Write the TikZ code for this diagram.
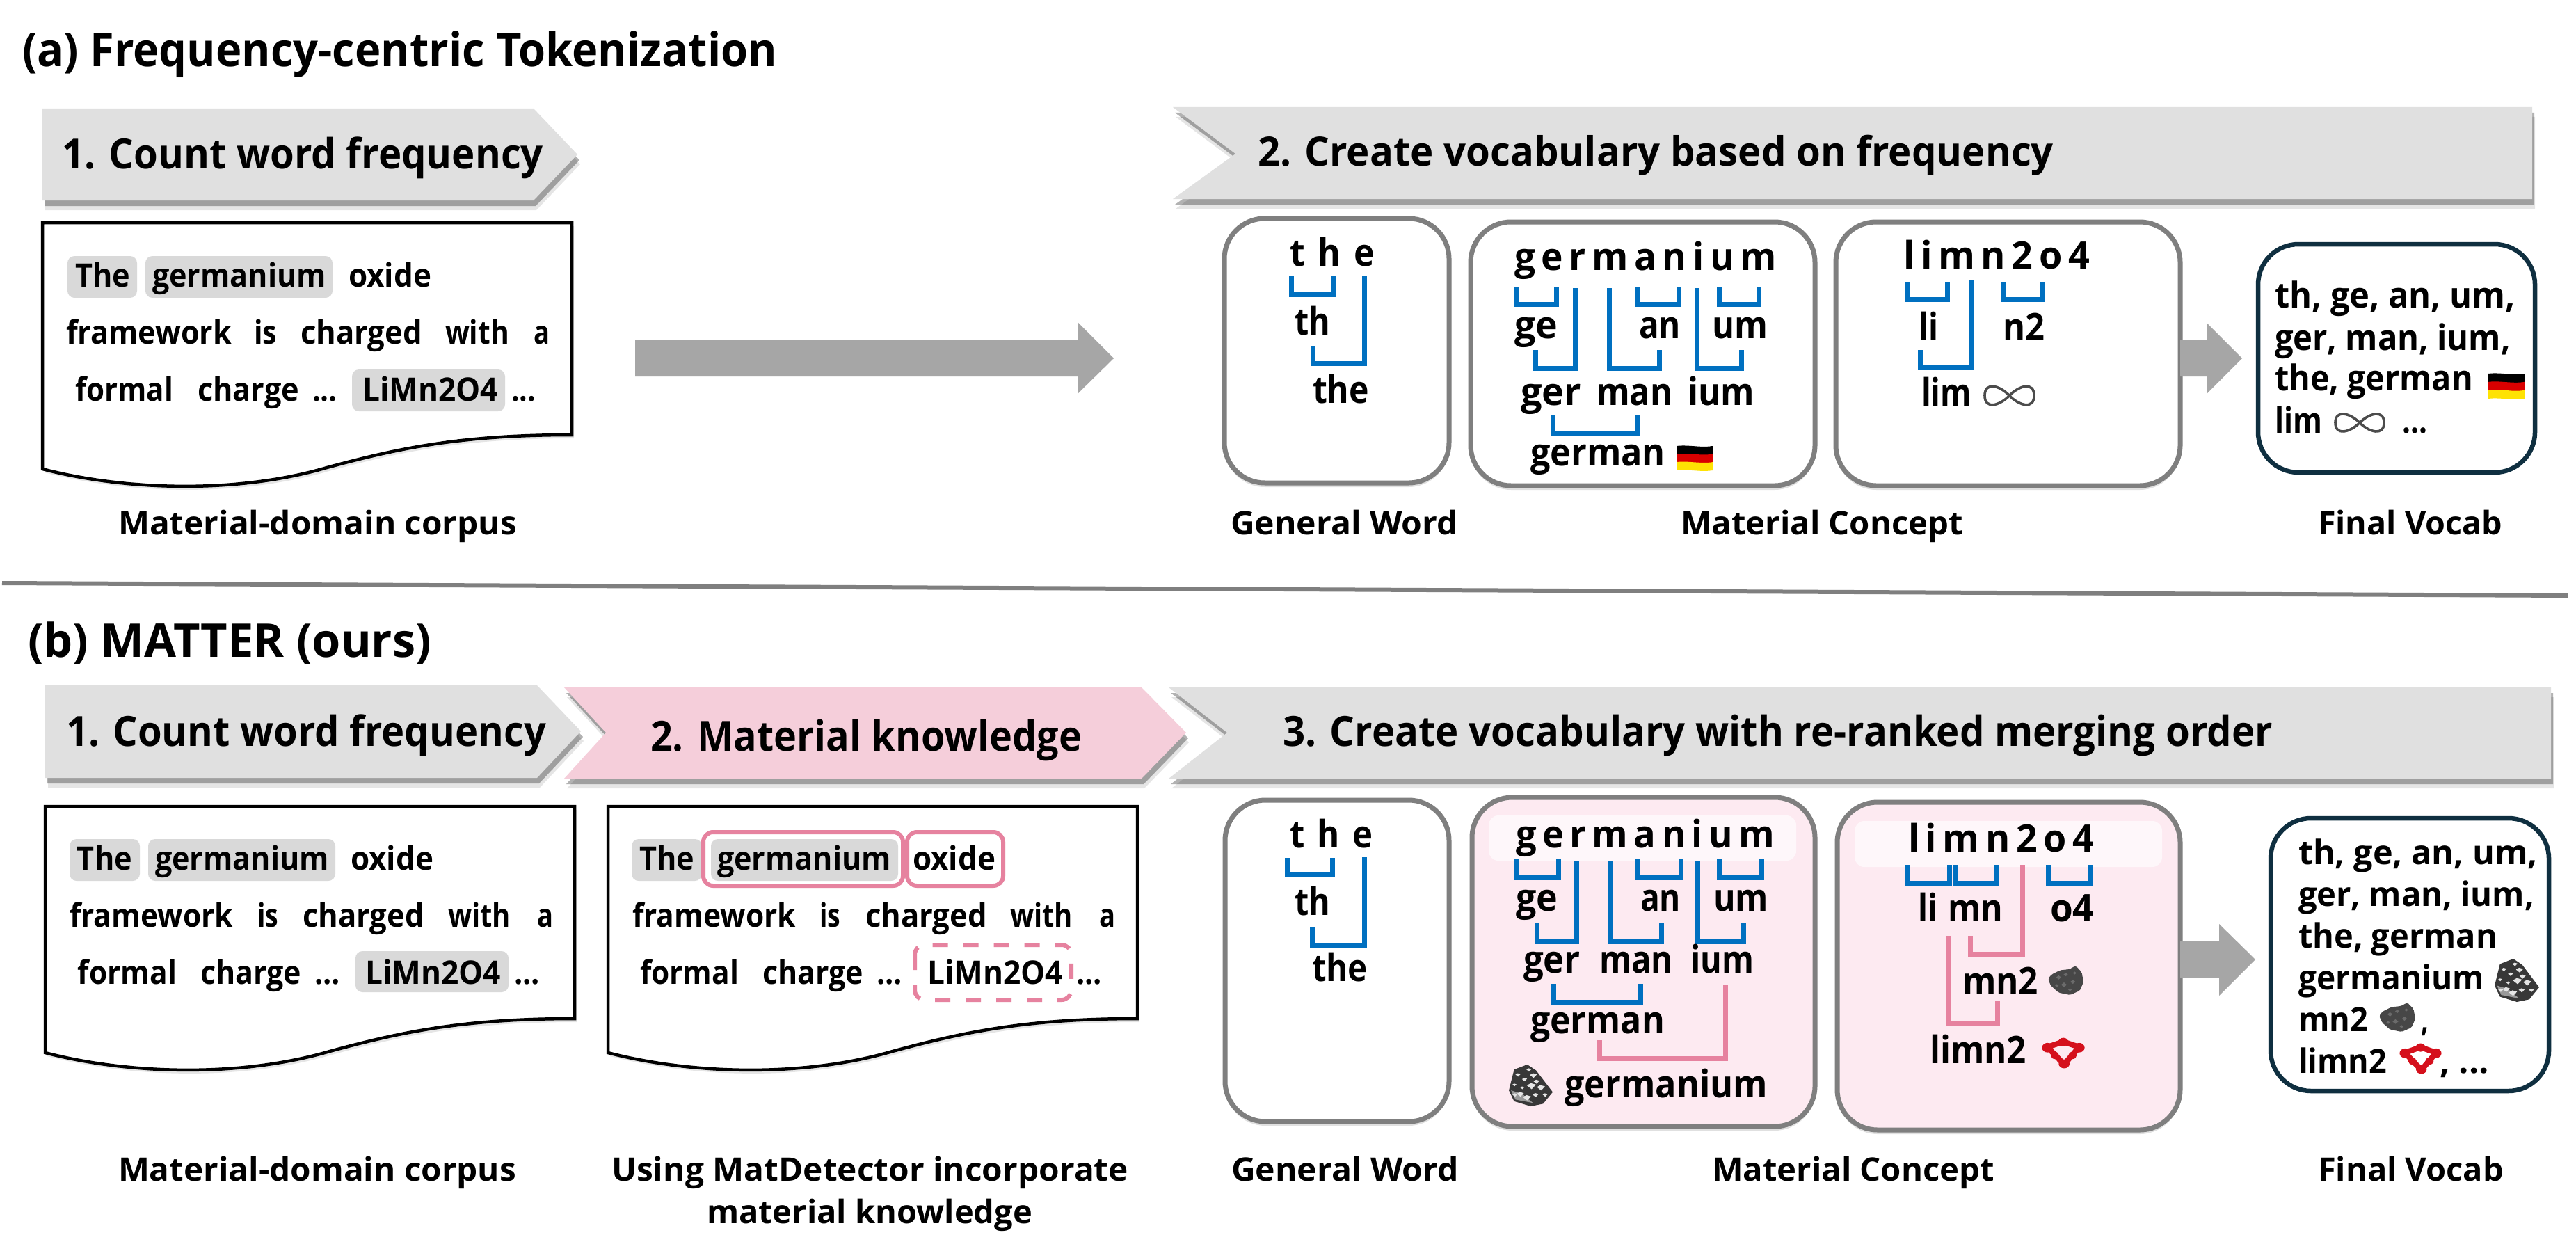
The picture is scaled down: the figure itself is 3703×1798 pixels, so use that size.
\documentclass[tikz,border=0pt]{standalone}
\usepackage{fontspec}
\usepackage{graphicx}
\setmainfont{Open Sans}
\usetikzlibrary{shadows}
\newlength\pxu
\setlength\pxu{0.02cm}
\definecolor{chevgray}{HTML}{E0E0E0}
\definecolor{chevpink}{HTML}{F5CEDA}
\definecolor{hlgray}{HTML}{D9D9D9}
\definecolor{brblue}{HTML}{0070C0}
\definecolor{brpink}{HTML}{E6829F}
\definecolor{boxedge}{HTML}{7F7F7F}
\definecolor{navy}{HTML}{0F2F40}
\definecolor{softpink}{HTML}{FDEAF1}
\definecolor{arrowgray}{HTML}{A6A6A6}
\definecolor{molred}{HTML}{D5101C}
\tikzset{
  x=0.02cm,y=-0.02cm,
  word/.style={anchor=base west,inner sep=0pt,outer sep=0pt,font=\bfseries},
  softshadow/.style={
    drop shadow={shadow xshift=4\pxu,shadow yshift=-14\pxu,opacity=.10,fill=black},
    drop shadow={shadow xshift=3\pxu,shadow yshift=-8\pxu,opacity=.30,fill=black}},
  chev/.style={fill=chevgray,softshadow},
  panel/.style={draw=boxedge,line width=7\pxu,fill=white,rounded corners=58\pxu,
    drop shadow={shadow xshift=0\pxu,shadow yshift=-6\pxu,opacity=.12,fill=black}},
  finalbox/.style={draw=navy,line width=6.5\pxu,fill=white,rounded corners=58\pxu},
  hl/.style={fill=hlgray,rounded corners=10\pxu},
  brk/.style={draw=brblue,line width=7\pxu,miter limit=10},
  brkp/.style={draw=brpink,line width=7\pxu,miter limit=10},
  page/.style={draw=black,line width=4.5\pxu,fill=white,line join=miter,
    drop shadow={shadow xshift=3\pxu,shadow yshift=-5\pxu,opacity=.10,fill=black}},
  bigarrow/.style={fill=arrowgray},
  band/.style={fill=white,fill opacity=.65,rounded corners=14\pxu},
  pinkbox/.style={draw=brpink,line width=6\pxu,rounded corners=14\pxu}
}
% [size in pt] name, x (left), y (baseline), width, text
\newcommand\tx[6][26.5]{\node[word] (#2) at (#3,#4) {\fontsize{#1pt}{#1pt}\selectfont\resizebox{#5\pxu}{\height}{#6}};}
% left x, left top y, right x, right top y, bottom y
\newcommand\br[6][brk]{\draw[#1] (#2,#3) -- (#2,#6) -- (#4,#6) -- (#4,#5);}
\newcommand\spaced[2]{{\addfontfeature{LetterSpace=#1}#2}}
\newcommand\flagicon[4]{\begin{scope}[shift={(#1,#2)},x=#3\pxu,y=-#4\pxu]
 \fill[black] (0,0) .. controls (.33,-.06) and (.66,.08) .. (1,0) -- (1,.36) .. controls (.66,.44) and (.33,.30) .. (0,.36) -- cycle;
 \fill[red!85!black] (0,.33) .. controls (.33,.27) and (.66,.41) .. (1,.33) -- (1,.69) .. controls (.66,.77) and (.33,.63) .. (0,.69) -- cycle;
 \fill[yellow!85!orange] (0,.66) .. controls (.33,.60) and (.66,.74) .. (1,.66) -- (1,1) .. controls (.66,1.08) and (.33,.94) .. (0,1) -- cycle;
\end{scope}}
\newcommand\loopicon[4]{\begin{scope}[shift={(#1,#2)},x=#3\pxu,y=-#4\pxu]
 \draw[black!70,line width=3.6\pxu] (.5,.5) .. controls (.7,.1) and (1,-.05) .. (1,.5) .. controls (1,1.05) and (.7,.9) .. (.5,.5) .. controls (.3,.1) and (0,-.05) .. (0,.5) .. controls (0,1.05) and (.3,.9) .. (.5,.5);
\end{scope}}
\newcommand\rockA[4]{\begin{scope}[shift={(#1,#2)},x=#3\pxu,y=-#4\pxu]
 \fill[black!78] (.12,.12) -- (.42,0) -- (.62,.14) -- (.78,.36) -- (1,.66) -- (.78,.94) -- (.5,1) -- (.12,.88) -- (0,.62) -- cycle;
 \fill[black!40] (.05,.62) -- (.3,.7) -- (.55,.92) -- (.15,.84) -- cycle;
 \foreach \px/\py/\ps in {.45/.12/.05,.55/.25/.07,.62/.4/.06,.72/.54/.08,.5/.5/.09,.35/.35/.05,.2/.24/.05,.25/.7/.07,.4/.78/.08,.13/.72/.05,.6/.72/.06,.82/.72/.05,.3/.55/.04,.12/.48/.04}
   \fill[black!10] (\px-\ps,\py) -- (\px,\py-.6*\ps) -- (\px+1.3*\ps,\py-.2*\ps) -- (\px+.2*\ps,\py+\ps) -- cycle;
\end{scope}}
\newcommand\rockB[4]{\begin{scope}[shift={(#1,#2)},x=#3\pxu,y=-#4\pxu]
 \fill[black!72,rounded corners=2\pxu] (.1,.3) -- (.35,.15) -- (.6,.12) -- (.78,0) -- (.95,.22) -- (1,.55) -- (.9,.85) -- (.62,1) -- (.3,.92) -- (.08,.68) -- (0,.45) -- cycle;
 \foreach \px/\py/\ps in {.3/.4/.07,.5/.3/.06,.45/.65/.08,.7/.55/.07,.75/.25/.05,.62/.82/.05,.25/.68/.05}
   \fill[black!58] (\px-\ps,\py) -- (\px,\py-\ps) -- (\px+\ps,\py) -- (\px,\py+\ps) -- cycle;
\end{scope}}
\newcommand\molecule[4]{\begin{scope}[shift={(#1,#2)},x=#3\pxu,y=-#4\pxu]
 \draw[molred,line width=8\pxu,line join=round] (.12,.3) -- (.5,.12) -- (.88,.3) -- (.52,.88) -- cycle;
 \fill[molred] (.12,.32) circle[x radius=.13,y radius=.16];
 \fill[molred] (.5,.13) circle[x radius=.12,y radius=.14];
 \fill[molred] (.88,.32) circle[x radius=.13,y radius=.16];
 \fill[molred] (.52,.86) circle[x radius=.13,y radius=.15];
 \fill[molred] (.3,.58) circle[x radius=.1,y radius=.12];
 \fill[molred] (.72,.58) circle[x radius=.1,y radius=.12];
\end{scope}}
\newcommand\paper{%
 \draw[page] (61,320) -- (822,320) -- (822,625) .. controls (660,625) and (570,645) .. (470,672) .. controls (340,710) and (180,705) .. (61,674) -- cycle;}
\begin{document}
\begin{tikzpicture}
\useasboundingbox (0,0) rectangle (3703,1798);
\fill[white] (0,0) rectangle (3703,1798);
% ---------- (a)
\tx[38]{ta}{32}{96}{1085}{(a) Frequency-centric Tokenization}
\path[chev] (61,156) -- (767,156) -- (830,222) -- (767,288) -- (61,288) -- cycle;
\tx[34]{a1}{89}{242}{692}{1. Count word frequency}
\path[chev] (1686,154) -- (3640,154) -- (3640,286) -- (1686,286) -- (1776,221) -- cycle;
\tx[33]{a2}{1808}{238}{1144}{2. Create vocabulary based on frequency}
\paper
\fill[hl] (97,368) rectangle (197,428);
\fill[hl] (209,368) rectangle (478,428);
\fill[hl] (506,531) rectangle (726,591);
\tx{aThe}{108}{412}{79}{The}
\tx{aGer}{219}{412}{250}{germanium}
\tx{aOx}{501}{412}{119}{oxide}
\tx{aFr}{95}{494}{238}{framework}
\tx{aIs}{365}{494}{33}{is}
\tx{aCh}{432}{494}{175}{charged}
\tx{aWi}{640}{494}{92}{with}
\tx{aA}{767}{494}{23}{a}
\tx{aFo}{108}{576}{141}{formal}
\tx{aCg}{284}{576}{146}{charge}
\tx{aDo}{449}{576}{36}{...}
\tx{aLi}{521}{576}{195}{LiMn2O4}
\tx{aDt}{735}{576}{35}{...}
\tx{aCap}{170}{768}{573}{Material-domain corpus}
\path[bigarrow] (913,489) -- (1549,489) -- (1549,463) -- (1601,515) -- (1549,566) -- (1549,541) -- (913,541) -- cycle;
% panels a
\path[panel] (1760,314) rectangle (2083,694);
\path[panel] (2114,319) rectangle (2609,698);
\path[panel] (2639,319) rectangle (3134,698);
\path[finalbox] (3246,351) rectangle (3644,679);
\path[bigarrow] (3134,489) -- (3172,489) -- (3172,464) -- (3223,515) -- (3172,566) -- (3172,541) -- (3134,541) -- cycle;
\tx[31]{aThe1}{1854}{382}{122}{\spaced{38}{the}}
\tx[31]{ath}{1861}{481}{51}{th}
\tx[31]{athe}{1887}{579}{81}{the}
\br{1856}{397}{1916}{397}{423}
\br{1887}{498}{1961}{397}{522}
\tx[31]{aGs}{2177}{388}{377}{\spaced{16}{germanium}}
\br{2180}{412}{2237}{412}{437}
\br{2353}{412}{2413}{412}{437}
\br{2471}{412}{2528}{412}{437}
\br{2207}{503}{2264}{414}{529}
\br{2313}{414}{2385}{503}{529}
\br{2439}{414}{2503}{503}{529}
\br{2232}{597}{2353}{597}{622}
\tx[31]{age}{2177}{486}{62}{ge}
\tx[31]{aan}{2356}{486}{60}{an}
\tx[31]{aum}{2461}{486}{80}{um}
\tx[31]{ager}{2186}{582}{87}{ger}
\tx[31]{aman}{2295}{582}{109}{man}
\tx[31]{aium}{2426}{582}{96}{ium}
\tx[31]{agerman}{2200}{669}{194}{german}
\flagicon{2410}{641}{52}{35}
\tx[31]{aLs}{2736}{386}{268}{\spaced{16}{limn2o4}}
\br{2741}{405}{2799}{405}{430}
\br{2879}{405}{2936}{405}{430}
\br{2760}{503}{2834}{402}{528}
\tx[31]{ali}{2758}{489}{28}{li}
\tx[31]{an2}{2879}{489}{60}{n2}
\tx[31]{alim}{2762}{583}{72}{lim}
\loopicon{2853}{550}{71}{37}
\tx[29]{af1}{3270}{442}{346}{th, ge, an, um,}
\tx[29]{af2}{3270}{503}{339}{ger, man, ium,}
\tx[29]{af3}{3270}{561}{285}{the, german}
\flagicon{3577}{537}{52}{36}
\tx[29]{af4}{3270}{622}{68}{lim}
\loopicon{3357}{590}{70}{35}
\tx[29]{af5}{3453}{622}{36}{...}
\tx{acG}{1769}{768}{327}{General Word}
\tx{acM}{2416}{768}{406}{Material Concept}
\tx{acF}{3332}{768}{265}{Final Vocab}
% divider
\draw[boxedge,line width=6\pxu] (3,838) -- (3691,856);
% ---------- (b)
\tx[38]{tb}{40}{944}{580}{(b) MATTER (ours)}
\path[chev] (65,985) -- (772,985) -- (835,1051) -- (772,1118) -- (65,1118) -- cycle;
\tx[34]{b1}{95}{1072}{690}{1. Count word frequency}
\path[chev] (1680,988) -- (3667,988) -- (3667,1119) -- (1680,1119) -- (1764,1053) -- cycle;
\tx[34]{b3}{1844}{1072}{1423}{3. Create vocabulary with re-ranked merging order}
\path[fill=chevpink,softshadow] (811,988) -- (1641,988) -- (1705,1053) -- (1641,1119) -- (811,1119) -- (871,1053) -- cycle;
\tx[34]{b2}{935}{1079}{620}{2. Material knowledge}
% doc 1
\begin{scope}[shift={(4,839)}]\paper\end{scope}
\fill[hl] (100,1206) rectangle (201,1266);
\fill[hl] (213,1206) rectangle (482,1266);
\fill[hl] (511,1367) rectangle (731,1426);
\tx{bThe}{111}{1250}{79}{The}
\tx{bGer}{223}{1250}{250}{germanium}
\tx{bOx}{504}{1250}{119}{oxide}
\tx{bFr}{100}{1332}{235}{framework}
\tx{bIs}{370}{1332}{30}{is}
\tx{bCh}{435}{1332}{175}{charged}
\tx{bWi}{644}{1332}{90}{with}
\tx{bA}{772}{1332}{23}{a}
\tx{bFo}{112}{1414}{142}{formal}
\tx{bCg}{288}{1414}{145}{charge}
\tx{bDo}{452}{1414}{37}{...}
\tx{bLi}{525}{1414}{195}{LiMn2O4}
\tx{bDt}{739}{1414}{37}{...}
\tx{bCap}{170}{1697}{572}{Material-domain corpus}
% doc 2
\begin{scope}[shift={(813,839)}]\paper\end{scope}
\fill[hl] (908,1206) rectangle (1009,1266);
\fill[hl] (1022,1206) rectangle (1291,1266);
\path[pinkbox] (1011,1196) rectangle (1298,1273);
\path[pinkbox] (1304,1196) rectangle (1442,1273);
\path[pinkbox,dashed,dash pattern=on 22\pxu off 22\pxu] (1315,1358) rectangle (1540,1437);
\tx{cThe}{919}{1250}{79}{The}
\tx{cGer}{1031}{1250}{250}{germanium}
\tx{cOx}{1312}{1250}{119}{oxide}
\tx{cFr}{909}{1332}{235}{framework}
\tx{cIs}{1178}{1332}{30}{is}
\tx{cCh}{1244}{1332}{175}{charged}
\tx{cWi}{1452}{1332}{90}{with}
\tx{cA}{1580}{1332}{23}{a}
\tx{cFo}{920}{1414}{142}{formal}
\tx{cCg}{1096}{1414}{145}{charge}
\tx{cDo}{1260}{1414}{37}{...}
\tx{cLi}{1333}{1414}{195}{LiMn2O4}
\tx{cDt}{1547}{1414}{37}{...}
\tx{cCap}{879}{1697}{743}{Using MatDetector incorporate}
\tx{cCap2}{1016}{1758}{468}{material knowledge}
% panels b
\path[panel] (1761,1150) rectangle (2083,1612);
\path[panel,fill=softpink] (2116,1146) rectangle (2609,1619);
\path[panel,fill=softpink] (2641,1153) rectangle (3134,1624);
\path[finalbox] (3264,1176) rectangle (3664,1568);
\path[bigarrow] (3134,1353) -- (3190,1353) -- (3190,1328) -- (3242,1379) -- (3190,1431) -- (3190,1405) -- (3134,1405) -- cycle;
\tx[31]{bThe1}{1854}{1218}{120}{\spaced{38}{the}}
\tx[31]{bth}{1861}{1315}{51}{th}
\tx[31]{bthe}{1886}{1410}{80}{the}
\br{1850}{1233}{1915}{1233}{1257}
\br{1886}{1333}{1961}{1232}{1358}
\fill[band] (2140,1172) rectangle (2582,1237);
\tx[31]{bGs}{2179}{1218}{372}{\spaced{16}{germanium}}
\br{2179}{1235}{2240}{1235}{1261}
\br{2354}{1235}{2416}{1235}{1261}
\br{2471}{1235}{2532}{1235}{1261}
\br{2209}{1327}{2266}{1238}{1353}
\br{2315}{1238}{2388}{1327}{1353}
\br{2440}{1238}{2506}{1327}{1353}
\br{2233}{1414}{2358}{1414}{1440}
\br[brkp]{2299}{1495}{2480}{1416}{1521}
\tx[31]{bge}{2179}{1309}{60}{ge}
\tx[31]{ban}{2358}{1309}{58}{an}
\tx[31]{bum}{2463}{1309}{79}{um}
\tx[31]{bger}{2190}{1398}{82}{ger}
\tx[31]{bman}{2299}{1398}{106}{man}
\tx[31]{bium}{2430}{1398}{91}{ium}
\tx[31]{bgerman}{2200}{1485}{193}{german}
\rockA{2169}{1530}{63}{60}
\tx[31]{bgermanium}{2249}{1577}{292}{germanium}
\fill[band] (2666,1180) rectangle (3108,1246);
\tx[31]{bLs}{2743}{1224}{267}{\spaced{16}{limn2o4}}
\br{2741}{1243}{2802}{1243}{1269}
\br{2811}{1243}{2870}{1243}{1269}
\br{2944}{1243}{3005}{1243}{1269}
\br[brkp]{2832}{1345}{2907}{1243}{1371}
\br[brkp]{2800}{1345}{2871}{1438}{1471}
\tx[31]{bli}{2757}{1324}{28}{li}
\tx[31]{bmn}{2800}{1324}{79}{mn}
\tx[31]{bo4}{2947}{1324}{63}{o4}
\tx[31]{bmn2}{2821}{1429}{109}{mn2}
\rockB{2944}{1388}{51}{42}
\tx[31]{blimn2}{2774}{1528}{139}{limn2}
\molecule{2936}{1492}{60}{43}
\tx[27.5]{bf1}{3304}{1242}{344}{th, ge, an, um,}
\tx[27.5]{bf2}{3304}{1302}{339}{ger, man, ium,}
\tx[27.5]{bf3}{3304}{1362}{286}{the, german}
\tx[27.5]{bf4}{3304}{1422}{267}{germanium}
\rockA{3586}{1378}{64}{62}
\tx[27.5]{bf5}{3304}{1482}{100}{mn2}
\rockB{3420}{1441}{52}{42}
\tx[27.5]{bf6}{3480}{1482}{11}{,}
\tx[27.5]{bf7}{3304}{1542}{127}{limn2}
\molecule{3450}{1500}{59}{43}
\tx[27.5]{bf8}{3507}{1542}{71}{, ...}
\tx{bcG}{1770}{1697}{327}{General Word}
\tx{bcM}{2461}{1697}{406}{Material Concept}
\tx{bcF}{3332}{1697}{267}{Final Vocab}
\end{tikzpicture}
\end{document}
